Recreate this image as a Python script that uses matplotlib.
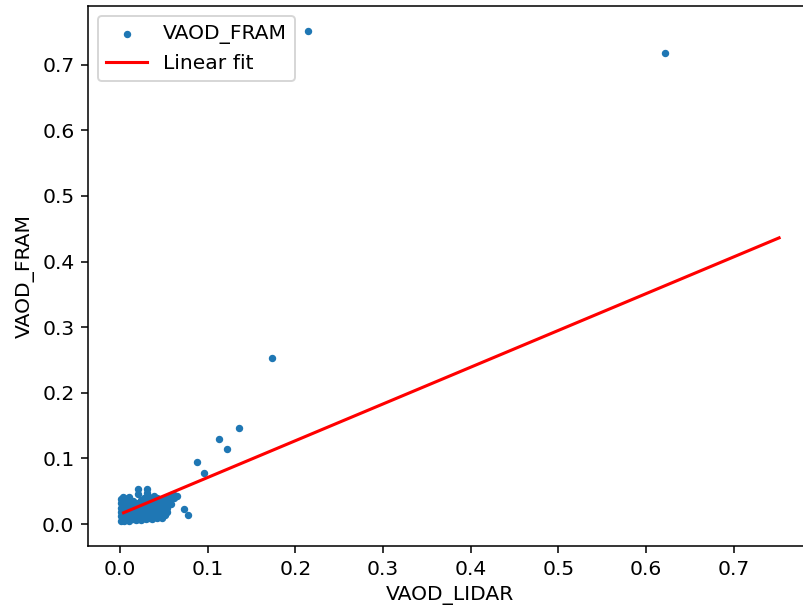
import numpy as np
import matplotlib
matplotlib.use("Agg")
import matplotlib.pyplot as plt

# --- data ---
lidar_cluster = [
    0.001, 0.001, 0.001, 0.001, 0.001, 0.001,
    0.003, 0.003, 0.003, 0.003, 0.003, 0.003,
    0.005, 0.005, 0.005, 0.005, 0.005, 0.005,
    0.008, 0.008, 0.008, 0.008, 0.008, 0.008,
    0.010, 0.010, 0.010, 0.010, 0.010, 0.010, 0.010,
    0.013, 0.013, 0.013, 0.013, 0.013,
    0.015, 0.015, 0.015, 0.015, 0.015, 0.015,
    0.018, 0.018, 0.018, 0.018, 0.018, 0.018,
    0.021, 0.021, 0.021, 0.021, 0.021, 0.021, 0.021,
    0.024, 0.024, 0.024, 0.024, 0.024, 0.024,
    0.027, 0.027, 0.027, 0.027, 0.027, 0.027,
    0.030, 0.030, 0.030, 0.030, 0.030, 0.030,
    0.031, 0.031,
    0.033, 0.033, 0.033, 0.033, 0.033, 0.033,
    0.036, 0.036, 0.036, 0.036, 0.036, 0.036,
    0.039, 0.039, 0.039, 0.039, 0.039, 0.039,
    0.042, 0.042, 0.042, 0.042, 0.042, 0.042,
    0.045, 0.045, 0.045, 0.045, 0.045,
    0.048, 0.048, 0.048, 0.048, 0.048,
    0.051, 0.051, 0.051, 0.051, 0.051,
    0.054, 0.054, 0.054, 0.054,
    0.058, 0.058, 0.058,
    0.062, 0.062,
    0.065,
]
fram_cluster = [
    0.005, 0.012, 0.018, 0.025, 0.032, 0.038,
    0.008, 0.015, 0.022, 0.030, 0.042, 0.035,
    0.004, 0.010, 0.020, 0.028, 0.036, 0.040,
    0.007, 0.013, 0.018, 0.024, 0.031, 0.038,
    0.005, 0.011, 0.016, 0.022, 0.027, 0.034, 0.042,
    0.009, 0.014, 0.019, 0.025, 0.030,
    0.007, 0.012, 0.018, 0.024, 0.029, 0.035,
    0.006, 0.011, 0.016, 0.021, 0.027, 0.032,
    0.054, 0.046, 0.008, 0.013, 0.019, 0.025, 0.031,
    0.006, 0.012, 0.017, 0.023, 0.029, 0.036,
    0.009, 0.015, 0.020, 0.026, 0.033, 0.040,
    0.007, 0.012, 0.018, 0.024, 0.030, 0.037,
    0.054, 0.048,
    0.010, 0.016, 0.022, 0.028, 0.035, 0.042,
    0.008, 0.013, 0.019, 0.025, 0.031, 0.038,
    0.011, 0.017, 0.023, 0.029, 0.036, 0.043,
    0.009, 0.015, 0.021, 0.027, 0.034, 0.040,
    0.012, 0.018, 0.024, 0.031, 0.038,
    0.010, 0.016, 0.022, 0.028, 0.036,
    0.014, 0.020, 0.026, 0.033, 0.040,
    0.018, 0.024, 0.030, 0.037,
    0.030, 0.038, 0.044,
    0.040, 0.045,
    0.043,
]
lidar_outliers = [0.073, 0.078, 0.088, 0.096, 0.113, 0.122, 0.136, 0.173, 0.215, 0.622]
fram_outliers = [0.023, 0.014, 0.094, 0.078, 0.129, 0.115, 0.147, 0.253, 0.752, 0.718]

fit_slope = 0.56
fit_intercept = 0.015

vaod_lidar = np.array(lidar_cluster + lidar_outliers)
vaod_fram = np.array(fram_cluster + fram_outliers)

plt.rcParams["font.size"] = 10.5

# --- figure ---
fig = plt.figure(figsize=(803 / 139, 612 / 139), dpi=139)
ax = fig.add_axes([88 / 803, 66 / 612, (812 - 88) / 803, (546 - 6) / 612])

ax.scatter(vaod_lidar, vaod_fram, s=8, color="#1f77b4", label="VAOD_FRAM")
fit_x = np.sort(vaod_fram)
ax.plot(fit_x, fit_slope * fit_x + fit_intercept, color="red", lw=1.6, label="Linear fit")

ax.set_xticks(np.arange(0, 0.71, 0.1))
ax.set_yticks(np.arange(0, 0.71, 0.1))
ax.set_xlabel("VAOD_LIDAR")
ax.set_ylabel("VAOD_FRAM")
ax.legend(loc="upper left")

fig.savefig("out.png", dpi=139)
